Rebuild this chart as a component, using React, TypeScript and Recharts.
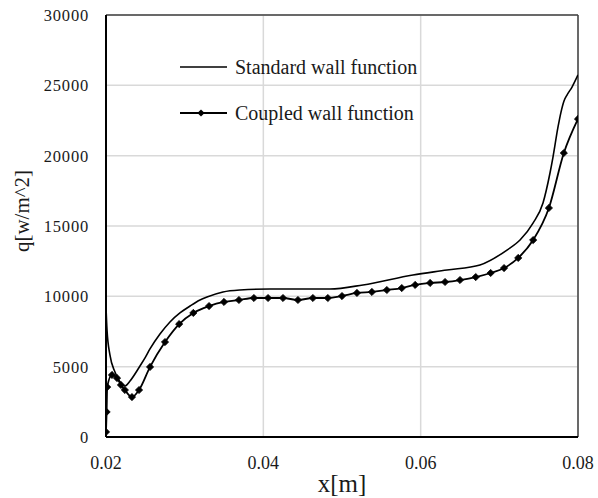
import React from 'react';
import {
  CartesianGrid,
  Legend,
  Line,
  LineChart,
  ReferenceLine,
  XAxis,
  YAxis,
} from 'recharts';

// Standard wall function (no markers)
const standardX = [
  0.02, 0.02013, 0.0205, 0.02114, 0.02178, 0.02242, 0.02305, 0.02432, 0.02496, 0.02559,
  0.02686, 0.02813, 0.0294, 0.03068, 0.03195, 0.03284, 0.03487, 0.03703, 0.04084, 0.04847,
  0.05267, 0.05902, 0.06334, 0.06754, 0.07097, 0.07263, 0.07428, 0.07555, 0.07644, 0.07682,
  0.07746, 0.07784, 0.07822, 0.0786, 0.07924, 0.08,
];
const standardQ = [
  9240, 7600, 5830, 4620, 3910, 3630, 3980, 5050, 5620, 6260,
  7320, 8180, 8820, 9310, 9740, 9950, 10310, 10450, 10520, 10520,
  10810, 11520, 11870, 12230, 13290, 14000, 15210, 16640, 18770, 19900,
  22040, 23100, 23890, 24310, 24880, 25740,
];

// Coupled wall function (diamond markers)
const coupledX = [
  0.02, 0.02008, 0.02015, 0.02076, 0.0214, 0.0219, 0.0224, 0.0233, 0.0242,
  0.0256, 0.0275, 0.0293, 0.0311, 0.0331, 0.035, 0.0369, 0.0388, 0.0406, 0.0425,
  0.0444, 0.0463, 0.0482, 0.05, 0.0519, 0.0538, 0.0557, 0.0576, 0.0593, 0.0612,
  0.0631, 0.065, 0.067, 0.0689, 0.0706, 0.0724, 0.0743, 0.0763, 0.0782, 0.08,
];
const coupledQ = [
  360, 1780, 3550, 4410, 4190, 3700, 3340, 2840, 3340,
  4980, 6750, 8030, 8820, 9310, 9600, 9740, 9880, 9880, 9880,
  9740, 9880, 9880, 10020, 10240, 10310, 10450, 10590, 10810, 10950,
  11020, 11160, 11370, 11660, 12010, 12730, 14000, 16280, 20190, 22610,
];

const xTicks = [0.02, 0.04, 0.06, 0.08];
const yTicks = [0, 5000, 10000, 15000, 20000, 25000, 30000];

const standardData = standardX.map((x, i) => ({ x, q: standardQ[i] }));
const coupledData = coupledX.map((x, i) => ({ x, q: coupledQ[i] }));

const FONT = 'Liberation Serif';
const INK = '#1a1a1a';

function Diamond(props: any) {
  const { cx, cy, index } = props;
  if (cx == null || cy == null) return <g key={`d-${index}`} />;
  const r = 3.6;
  return (
    <path
      key={`d-${index}`}
      d={`M${cx},${cy - r}L${cx + r},${cy}L${cx},${cy + r}L${cx - r},${cy}Z`}
      fill="#000"
      stroke="#000"
      strokeWidth={0.8}
    />
  );
}

function LegendBox() {
  return (
    <svg width={260} height={80} style={{ display: 'block' }}>
      <line x1={5} y1={17} x2={52} y2={17} stroke="#000" strokeWidth={1.6} />
      <text x={60} y={17} dominantBaseline="central" fontFamily={FONT} fontSize={20} fill={INK}>
        Standard wall function
      </text>
      <line x1={5} y1={63} x2={52} y2={63} stroke="#000" strokeWidth={2} />
      <path d="M26,59.4L29.6,63L26,66.6L22.4,63Z" fill="#000" />
      <text x={60} y={63} dominantBaseline="central" fontFamily={FONT} fontSize={20} fill={INK}>
        Coupled wall function
      </text>
    </svg>
  );
}

const yLabel = () => (
  <text
    x={22}
    y={211}
    transform="rotate(-90 22 211)"
    textAnchor="middle"
    dominantBaseline="central"
    fontFamily={FONT}
    fontSize={21}
    fill={INK}
  >
    q[w/m^2]
  </text>
);

const xLabel = () => (
  <text
    x={342}
    y={483}
    textAnchor="middle"
    dominantBaseline="central"
    fontFamily={FONT}
    fontSize={25}
    fill={INK}
  >
    x[m]
  </text>
);

export default function App() {
  return (
    <div style={{ position: 'absolute', left: 0, top: 0, width: 598, height: 498, background: '#fff' }}>
      <LineChart width={598} height={498} margin={{ top: 15, right: 20, bottom: 0, left: 0 }}>
        <CartesianGrid stroke="#d9d9d9" strokeWidth={1.5} />
        <XAxis
          type="number"
          dataKey="x"
          domain={[0.02, 0.08]}
          ticks={xTicks}
          allowDataOverflow
          tickFormatter={(v: number) => v.toFixed(2)}
          height={61}
          tickSize={0}
          tickMargin={19}
          axisLine={{ stroke: '#000', strokeWidth: 2 }}
          tick={{ fill: INK, fontSize: 18, fontFamily: FONT }}
          label={xLabel}
        />
        <YAxis
          type="number"
          dataKey="q"
          domain={[0, 30000]}
          ticks={yTicks}
          width={106}
          tickSize={0}
          tickMargin={17}
          axisLine={{ stroke: '#000', strokeWidth: 2 }}
          tick={{ fill: INK, fontSize: 16.5, fontFamily: FONT, letterSpacing: 0.8 }}
          label={yLabel}
        />
        <ReferenceLine y={30000} stroke="#404040" strokeWidth={1.5} />
        <ReferenceLine x={0.08} stroke="#404040" strokeWidth={1.5} />
        <Legend
          layout="vertical"
          align="center"
          verticalAlign="middle"
          wrapperStyle={{ left: 175, top: 50, width: 260 }}
          content={() => <LegendBox />}
        />
        <Line
          data={standardData}
          dataKey="q"
          name="Standard wall function"
          type="monotone"
          stroke="#000"
          strokeWidth={1.6}
          dot={false}
          isAnimationActive={false}
        />
        <Line
          data={coupledData}
          dataKey="q"
          name="Coupled wall function"
          type="monotone"
          stroke="#000"
          strokeWidth={1.8}
          dot={Diamond}
          isAnimationActive={false}
        />
      </LineChart>
    </div>
  );
}
